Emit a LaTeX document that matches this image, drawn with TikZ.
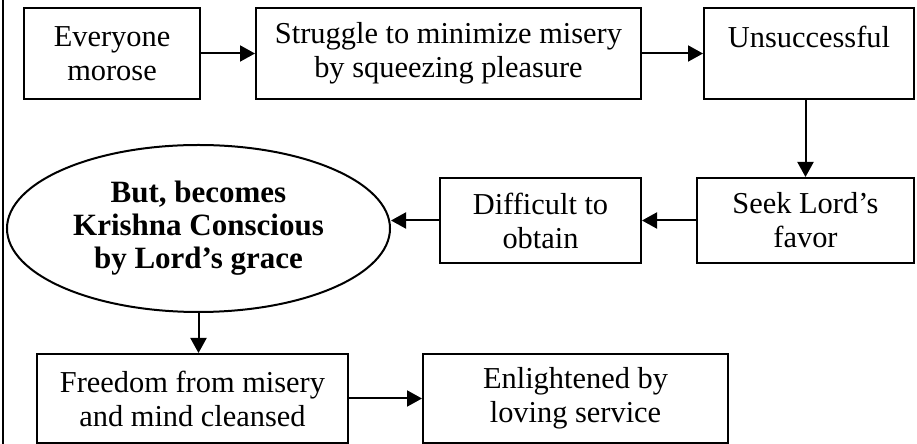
\documentclass[tikz,border=0pt]{standalone}
\usepackage{fontspec}
\setmainfont{Liberation Serif}
\usepackage{tikz}
\usetikzlibrary{shapes.geometric,arrows.meta}

\begin{document}
\begin{tikzpicture}[x=0.5pt,y=0.5pt]
\tikzstyle{every node}+=[inner sep=0pt,font=\fontsize{15.2}{17}\selectfont]
\tikzstyle{stepbox}=[draw,line width=1pt,align=center,rectangle]
\tikzstyle{flow}=[line width=1pt,-{Triangle[length=7.5pt,width=8pt]}]
\useasboundingbox (0,0) rectangle (917,444);
% outer frame, left side only
\draw [line width=1pt] (3,0) -- (3,444);
% top row
\node [stepbox,minimum width=88pt,minimum height=45.5pt] (morose) at (112,390.5) {Everyone\\morose};
\node [stepbox,minimum width=192.5pt,minimum height=45.5pt] (struggle) at (448.5,390.5) {Struggle to minimize misery\\by squeezing pleasure};
\node [stepbox,minimum width=105pt,minimum height=45.5pt] (unsucc) at (809,390.5) {Unsuccessful\\\mbox{}};
% middle row
\node [stepbox,minimum width=108.5pt,minimum height=42.5pt] (seek) at (805.5,223.5) {Seek Lord’s\\favor};
\node [stepbox,minimum width=100.5pt,minimum height=42.5pt] (difficult) at (540.5,223.5) {Difficult to\\obtain};
\node [draw,line width=1pt,ellipse,align=center,minimum width=191.5pt,minimum height=83.5pt,font=\fontsize{15.5}{16.5}\selectfont\bfseries] (grace) at (198.5,215.5) {But, becomes\\Krishna Conscious\\by Lord’s grace};
% bottom row
\node [stepbox,minimum width=155.5pt,minimum height=44.5pt] (freedom) at (192.5,45.5) {Freedom from misery\\and mind cleansed};
\node [stepbox,minimum width=152.5pt,minimum height=44.5pt] (service) at (575.5,45.5) {Enlightened by\\loving service};
% arrows
\draw [flow] (morose) -- (struggle);
\draw [flow] (struggle) -- (unsucc);
\draw [flow] (seek.north |- unsucc.south) -- (seek.north);
\draw [flow] (seek) -- (difficult);
\draw [flow] (difficult) -- (difficult -| grace.east);
\draw [flow] (grace.south) -- (grace.south |- freedom.north);
\draw [flow] (freedom) -- (service);
\end{tikzpicture}
\end{document}
